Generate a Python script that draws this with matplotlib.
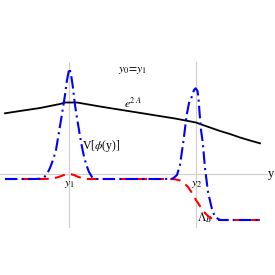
import matplotlib
matplotlib.use("Agg")
import matplotlib.pyplot as plt
import numpy as np

# data (pixel-based coordinates converted below)
blue_x = [5, 20, 35, 40, 44, 47, 50, 53, 56, 59, 62, 65, 67, 69.3, 71, 73, 75, 77, 79, 81, 83, 86, 89, 92, 96,
          110, 130, 150, 165, 173, 177, 180, 183.3, 186.7, 189, 191.7, 194, 195.7, 197.5, 198.5, 199.5, 201,
          202.7, 205, 208, 211.7, 215, 220, 230, 245, 260]
blue_y = [179, 179, 179, 178.7, 177.5, 174, 168, 160, 150, 132, 114, 95, 80, 68.3, 74, 88, 105, 118, 130, 142, 152,
          164, 172, 177, 179,
          179, 179, 179, 179, 178.5, 175, 165, 142, 115, 103, 97, 90, 88.3, 91, 98, 112, 130,
          142, 168, 192, 208, 217, 220, 220, 220, 220]

red_x = [5, 40, 50, 55, 60, 64, 67, 69, 71, 74, 78, 83, 88, 95, 150, 170, 175, 180, 184, 188, 192, 196, 200,
         204, 208, 212, 216, 222, 260]
red_y = [179, 179, 178.8, 178, 176.5, 175, 174.2, 174, 174.2, 175, 176.8, 178.3, 179, 179, 179, 179, 179.3,
         180.5, 183, 187, 193, 200, 206, 212, 216, 218.7, 219.7, 220, 220]

black_x = [5, 20, 40, 60, 65, 77, 100, 125, 150, 175, 196, 200, 210, 220, 230, 240, 250, 260]
black_y = [113.3, 111, 108, 104, 102.5, 102.5, 106.5, 110.5, 114.5, 118.5, 122.5, 124, 127.5, 131, 134,
           137.5, 140.5, 143.3]

def u(px):
    return (np.asarray(px, float) - 69) / 127.0

def v(py):
    return (174 - np.asarray(py, float)) / 100.0

fig = plt.figure(figsize=(2.75, 2.75), dpi=100)
ax = fig.add_axes([0, 0, 1, 1])
ax.set_xlim(u(0), u(275))
ax.set_ylim(v(275), v(0))
ax.axis('off')

grid_c = '#d0d0d0'
ax.plot([u(0), u(266.7)], [0, 0], color=grid_c, lw=0.9, zorder=1)
for gx in [0, 1]:
    ax.plot([gx, gx], [v(62), v(227)], color=grid_c, lw=0.9, zorder=1)

ax.plot(u(black_x), v(black_y), color='black', lw=1.3, zorder=3)
ax.plot(u(red_x), v(red_y), color='red', lw=1.5, ls=(0, (5, 3)), zorder=4)
ax.plot(u(blue_x), v(blue_y), color='blue', lw=1.5, ls=(0, (6, 2, 1, 2)), zorder=5)

fam = ['Liberation Serif', 'DejaVu Serif']
fs = 8.5
ax.text(u(133), v(70), r'$y_0\!=\!y_1$', fontsize=fs, ha='center', va='center', math_fontfamily='stix')
ax.text(u(133), v(104), r'$e^{2\,A}$', fontsize=fs, ha='center', va='center', math_fontfamily='stix')
ax.text(u(82), v(146), r'V[$\phi$(y)]', fontsize=fs, ha='left', va='center', family=fam, math_fontfamily='stix')
ax.text(u(69), v(184), r'$y_1$', fontsize=fs, ha='center', va='center', math_fontfamily='stix')
ax.text(u(197), v(183), r'$y_2$', fontsize=fs, ha='center', va='center', math_fontfamily='stix')
ax.text(u(205), v(218), r'$\Lambda_B$', fontsize=fs, ha='center', va='center', math_fontfamily='stix')
ax.text(u(271), v(174), 'y', fontsize=fs + 0.5, ha='center', va='center', family=fam)

fig.savefig('out.png', dpi=100)
